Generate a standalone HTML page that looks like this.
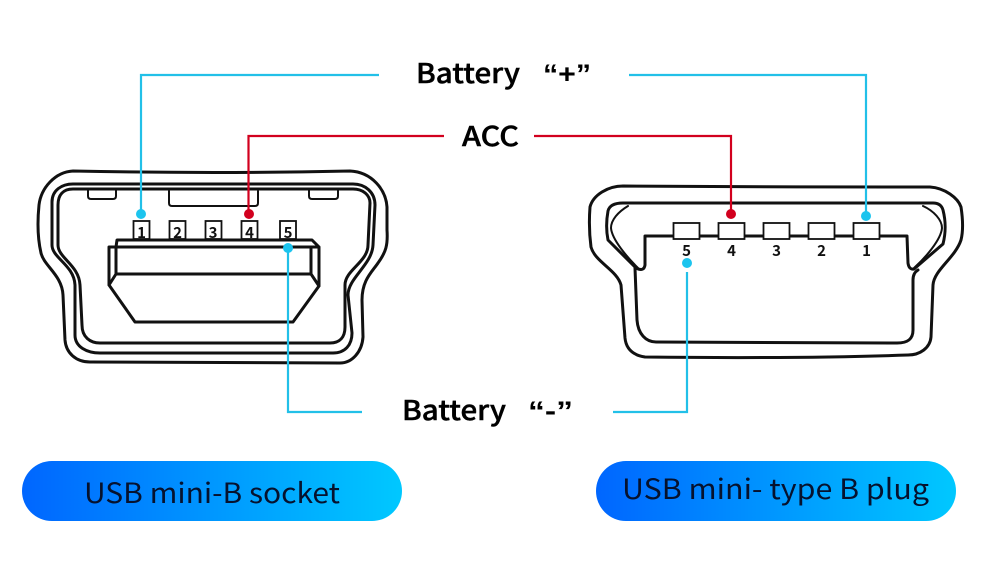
<!DOCTYPE html>
<html><head><meta charset="utf-8"><style>
html,body{margin:0;padding:0;background:#fff}
svg{display:block}
text{font-family:"Noto Sans CJK SC","Liberation Sans",sans-serif}
.c{fill:none;stroke:#111;stroke-width:3;stroke-linejoin:round;stroke-linecap:round}
.p{fill:#fff;stroke:#111;stroke-width:1.8}
.n{font-size:15px;font-weight:700;fill:#111;text-anchor:middle}
.l{font-size:27px;font-weight:500;fill:#000;stroke:#000;stroke-width:.45}
.q{font-family:"Liberation Sans",sans-serif;font-size:27px;font-weight:700;fill:#000}
.b{font-size:28px;fill:#06122e}
</style></head><body>
<svg width="1000" height="566" viewBox="0 0 1000 566" xmlns="http://www.w3.org/2000/svg">
<defs><linearGradient id="g" x1="0" x2="1" y1="0" y2="0"><stop offset="0" stop-color="#0066ff"/><stop offset="1" stop-color="#00c8ff"/></linearGradient></defs>

<!-- socket shell -->
<path class="c" d="M73 171 C55 172 41 188 39 205 C37 225 38 240 41 253 C44 266 62 275 63 295 L65 340 C66 353 76 362 90 362 L340 363 C352 363 362 352 363 337 L362 300 C362 280 372 272 378 263 C386 252 388 245 387 230 L387 207 C386 190 372 172 350 171 C260 173 170 173 73 171Z"/>
<path class="c" d="M73 184 C62 184 52 190 52 202 L52 245 C52 258 74 265 75 285 L75 335 C75 347 87 353 100 353 L333 353 C345 353 352 345 352 333 L348 295 C348 278 372 265 373 245 L375 205 C375 192 365 184 353 184 Z"/>
<path class="c" d="M73 189 C63 189 58 195 58 205 L58 245 C58 258 79 265 80 285 L82 325 C82 337 90 343 100 343 L330 343 C340 343 345 337 345 327 L345 285 C345 270 368 262 368 245 L370 203 C370 195 363 189 353 189 Z"/>
<path class="c" style="stroke-width:2" d="M88 190 V196 Q88 199 91 199 H113 Q116 199 116 196 V190"/>
<path class="c" style="stroke-width:2" d="M169 191 V203 Q169 206 172 206 H255 Q258 206 258 203 V191"/>
<path class="c" style="stroke-width:2" d="M309 190 V196 Q309 199 312 199 H335 Q338 199 338 196 V190"/>
<rect class="p" x="133.500" y="221" width="16" height="18"/><rect class="p" x="169.500" y="221" width="16" height="18"/><rect class="p" x="205.500" y="221" width="16" height="18"/><rect class="p" x="241.500" y="221" width="16" height="18"/><rect class="p" x="280" y="221" width="16" height="18"/>
<text class="n" x="141.500" y="238">1</text><text class="n" x="177.500" y="238">2</text><text class="n" x="213" y="238">3</text><text class="n" x="249.500" y="238">4</text><text class="n" x="288" y="238">5</text>
<path class="c" d="M116 247 L109 247 L109 285 L135 322 L293 322 L319 286 L319 247 L312 240 L117 240 Z M109 247 H319 M116 247 V274 H311 V247 M109 285 L116 274 M319 286 L311 274"/>

<!-- plug shell -->
<path class="c" d="M623 186 C720 187 830 187 930 187 C945 188 958 198 961 207 C963 220 963 232 961 240 C955 258 934 270 933 285 L931 337 C930 348 920 355 908 355 C820 358 730 358 645 357 C632 355 626 348 625 338 L621 285 C617 270 595 262 591 247 C589 232 589 220 590 207 C593 195 608 186 623 186 Z"/>
<path class="c" d="M645 236 H907 L908 263 Q909 270 914 269 L943 244 C946 232 946 222 943 210 Q941 203 933 203 L623 203 Q610 203 608 211 C606 222 606 230 608 240 L636 268 Q644 272 645 265 Z"/>
<path class="c" style="stroke-width:2" d="M628 206 C618 212 611 220 611 228 C612 240 628 258 638 268 M923 206 C934 211 942 220 942 228 C941 240 925 258 914 268"/>
<path class="c" d="M635 268 L637 320 C638 334 646 342 656 342 L897 343 C908 343 913 339 913 330 L913 280 Q913 273 918 270"/>
<rect class="p" x="673.500" y="223" width="26" height="16"/><rect class="p" x="718.500" y="223" width="26" height="16"/><rect class="p" x="763.500" y="223" width="26" height="16"/><rect class="p" x="808.500" y="223" width="26" height="16"/><rect class="p" x="853.500" y="223" width="26" height="16"/>
<text class="n" x="686.500" y="256">5</text><text class="n" x="731.500" y="256">4</text><text class="n" x="776.500" y="256">3</text><text class="n" x="821.500" y="256">2</text><text class="n" x="866.500" y="256">1</text>

<!-- connectors -->
<g fill="none" stroke-width="2.200">
<path stroke="#22c0e8" d="M379 75 H141 V214"/>
<path stroke="#22c0e8" d="M629 75 H866 V216"/>
<path stroke="#d2001e" d="M444 136 H248.500 V214"/>
<path stroke="#d2001e" d="M534 136 H731 V214"/>
<path stroke="#22c0e8" d="M362 412 H288 V248"/>
<path stroke="#22c0e8" d="M613 412 H687 V272"/>
</g>
<g fill="#1cc4ee"><circle cx="141" cy="214" r="5"/><circle cx="866" cy="216" r="5"/><circle cx="288" cy="248" r="5"/><circle cx="687" cy="263" r="5"/></g>
<g fill="#d2001e"><circle cx="249" cy="214" r="5"/><circle cx="731" cy="214" r="5"/></g>

<text class="l" x="416" y="83" textLength="104" lengthAdjust="spacingAndGlyphs">Battery</text>
<text class="q" x="543" y="83" textLength="48" lengthAdjust="spacingAndGlyphs">“+”</text>
<text class="l" x="462" y="146" textLength="57" lengthAdjust="spacingAndGlyphs">ACC</text>
<text class="l" x="402" y="420" textLength="104" lengthAdjust="spacingAndGlyphs">Battery</text>
<text class="q" x="528" y="420" textLength="45" lengthAdjust="spacingAndGlyphs">“-”</text>

<rect x="22" y="461" width="380" height="60" rx="30" fill="url(#g)"/>
<rect x="596" y="461" width="360" height="60" rx="30" fill="url(#g)"/>
<text class="b" x="84" y="503" textLength="256" lengthAdjust="spacingAndGlyphs">USB mini-B socket</text>
<text class="b" x="622" y="499" textLength="307" lengthAdjust="spacingAndGlyphs">USB mini- type B plug</text>
</svg>
</body></html>
